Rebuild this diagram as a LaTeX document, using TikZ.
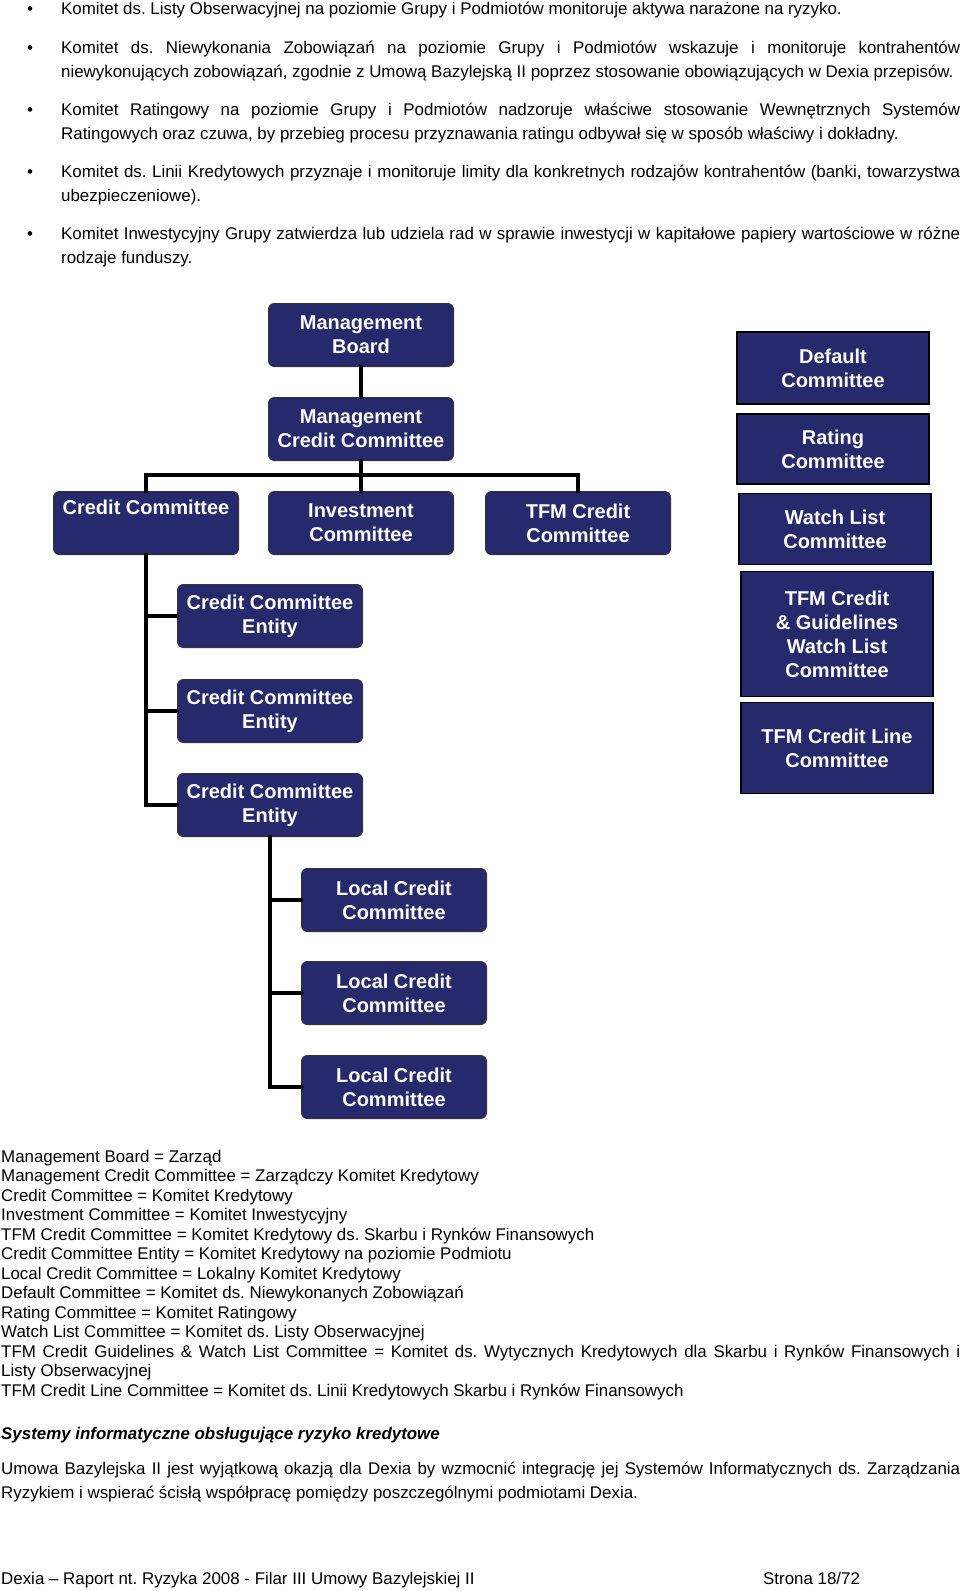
\documentclass[tikz,border=0pt]{standalone}
\usepackage{fontspec}
\setmainfont{Liberation Sans}
\frenchspacing
\definecolor{navy}{RGB}{38,42,108}
\newcommand{\bodyfont}{\fontsize{16.9pt}{24pt}\selectfont}
\newcommand{\legfont}{\fontsize{16.9pt}{19.5pt}\selectfont}
\newcommand{\boxfont}{\fontsize{20pt}{24pt}\selectfont\bfseries}
\tikzset{
  para/.style={anchor=base west, inner sep=0pt, text width=899pt, align=justify, font=\bodyfont},
  plain/.style={anchor=base west, inner sep=0pt, font=\bodyfont},
  bul/.style={anchor=base west, inner sep=0pt, font=\bodyfont},
  rbox/.style={draw=black!80, line width=1pt, fill=navy, rounded corners=6pt, text=white, font=\boxfont, align=center, inner sep=0pt, minimum width=185pt, minimum height=63pt},
  sbox/.style={draw=black, line width=1.5pt, fill=navy, text=white, font=\boxfont, align=center, inner sep=0pt, minimum width=192pt},
  conn/.style={line width=4.5pt, line cap=rect, black}
}
\begin{document}
\begin{tikzpicture}[x=1pt,y=-1pt]
\useasboundingbox (0,0) rectangle (960,1591);
% ---- bullet paragraphs ----
\node[bul] (b1) at (27,14) {•};
\node[plain] (t1) at (61,14) {Komitet ds. Listy Obserwacyjnej na poziomie Grupy i Podmiotów monitoruje aktywa narażone na ryzyko.};
\node[bul] (b2) at (27,53) {•};
\node[para] (t2) at (61,53) {Komitet ds. Niewykonania Zobowiązań na poziomie Grupy i Podmiotów wskazuje i monitoruje kontrahentów\linebreak niewykonujących zobowiązań, zgodnie z Umową Bazylejską II poprzez stosowanie obowiązujących w Dexia przepisów.};
\node[bul] (b3) at (27,115) {•};
\node[para] (t3) at (61,115) {Komitet Ratingowy na poziomie Grupy i Podmiotów nadzoruje właściwe stosowanie Wewnętrznych Systemów\linebreak Ratingowych oraz czuwa, by przebieg procesu przyznawania ratingu odbywał się w sposób właściwy i dokładny.};
\node[bul] (b4) at (27,177.5) {•};
\node[para] (t4) at (61,177.5) {Komitet ds. Linii Kredytowych przyznaje i monitoruje limity dla konkretnych rodzajów kontrahentów (banki, towarzystwa\linebreak ubezpieczeniowe).};
\node[bul] (b5) at (27,239.5) {•};
\node[para] (t5) at (61,239.5) {Komitet Inwestycyjny Grupy zatwierdza lub udziela rad w sprawie inwestycji w kapitałowe papiery wartościowe w różne\linebreak rodzaje funduszy.};
% ---- org chart: left tree ----
\node[rbox] (mb) at (361,335) {Management\\Board};
\node[rbox] (mcc) at (361,429) {Management\\Credit Committee};
\node[rbox] (cc) at (146,523) {Credit Committee\\\strut};
\node[rbox] (ic) at (361,523) {Investment\\Committee};
\node[rbox] (tfm) at (578,523) {TFM Credit\\Committee};
\node[rbox] (e1) at (270,616) {Credit Committee\\Entity};
\node[rbox] (e2) at (270,711) {Credit Committee\\Entity};
\node[rbox] (e3) at (270,805) {Credit Committee\\Entity};
\node[rbox] (l1) at (394,900) {Local Credit\\Committee};
\node[rbox] (l2) at (394,993) {Local Credit\\Committee};
\node[rbox] (l3) at (394,1087) {Local Credit\\Committee};
\coordinate (bar) at (361,475);
\draw[conn] (mb.south) -- (mcc.north);
\draw[conn] (mcc.south) -- (bar);
\draw[conn] (cc.north) |- (bar) -| (tfm.north);
\draw[conn] (bar) -- (ic.north);
\draw[conn] (cc.south) |- (e3.west);
\draw[conn] (cc.south |- e1.west) -- (e1.west);
\draw[conn] (cc.south |- e2.west) -- (e2.west);
\draw[conn] (e3.south) |- (l3.west);
\draw[conn] (e3.south |- l1.west) -- (l1.west);
\draw[conn] (e3.south |- l2.west) -- (l2.west);
% ---- right column ----
\node[sbox, minimum height=72pt] (dc) at (833,368) {Default\\Committee};
\node[sbox, minimum height=70pt] (rc) at (833,449) {Rating\\Committee};
\node[sbox, minimum height=71pt] (wl) at (835,529) {Watch List\\Committee};
\node[sbox, minimum height=125pt] (tg) at (837,634) {TFM Credit\\\& Guidelines\\Watch List\\Committee};
\node[sbox, minimum height=91pt] (tl) at (837,748) {TFM Credit Line\\Committee};
% ---- legend ----
\node[anchor=base west, inner sep=0pt, text width=959pt, align=justify, font=\legfont] (leg) at (1,1162) {Management Board = Zarząd\\
Management Credit Committee = Zarządczy Komitet Kredytowy\\
Credit Committee = Komitet Kredytowy\\
Investment Committee = Komitet Inwestycyjny\\
TFM Credit Committee = Komitet Kredytowy ds. Skarbu i Rynków Finansowych\\
Credit Committee Entity = Komitet Kredytowy na poziomie Podmiotu\\
Local Credit Committee = Lokalny Komitet Kredytowy\\
Default Committee = Komitet ds. Niewykonanych Zobowiązań\\
Rating Committee = Komitet Ratingowy\\
Watch List Committee = Komitet ds. Listy Obserwacyjnej\\
TFM Credit Guidelines \& Watch List Committee = Komitet ds. Wytycznych Kredytowych dla Skarbu i Rynków Finansowych i\linebreak Listy Obserwacyjnej\\
TFM Credit Line Committee = Komitet ds. Linii Kredytowych Skarbu i Rynków Finansowych};
% ---- section ----
\node[plain, font=\bodyfont\bfseries\itshape] (hd) at (1,1439) {Systemy informatyczne obsługujące ryzyko kredytowe};
\node[anchor=base west, inner sep=0pt, text width=959pt, align=justify, font=\bodyfont] (pa) at (1,1474) {Umowa Bazylejska II jest wyjątkową okazją dla Dexia by wzmocnić integrację jej Systemów Informatycznych ds. Zarządzania\linebreak Ryzykiem i wspierać ścisłą współpracę pomiędzy poszczególnymi podmiotami Dexia.};
% ---- footer ----
\node[plain] (f1) at (1,1584) {Dexia – Raport nt. Ryzyka 2008 - Filar III Umowy Bazylejskiej II};
\node[plain] (f2) at (763,1584) {Strona 18/72};
\end{tikzpicture}
\end{document}
